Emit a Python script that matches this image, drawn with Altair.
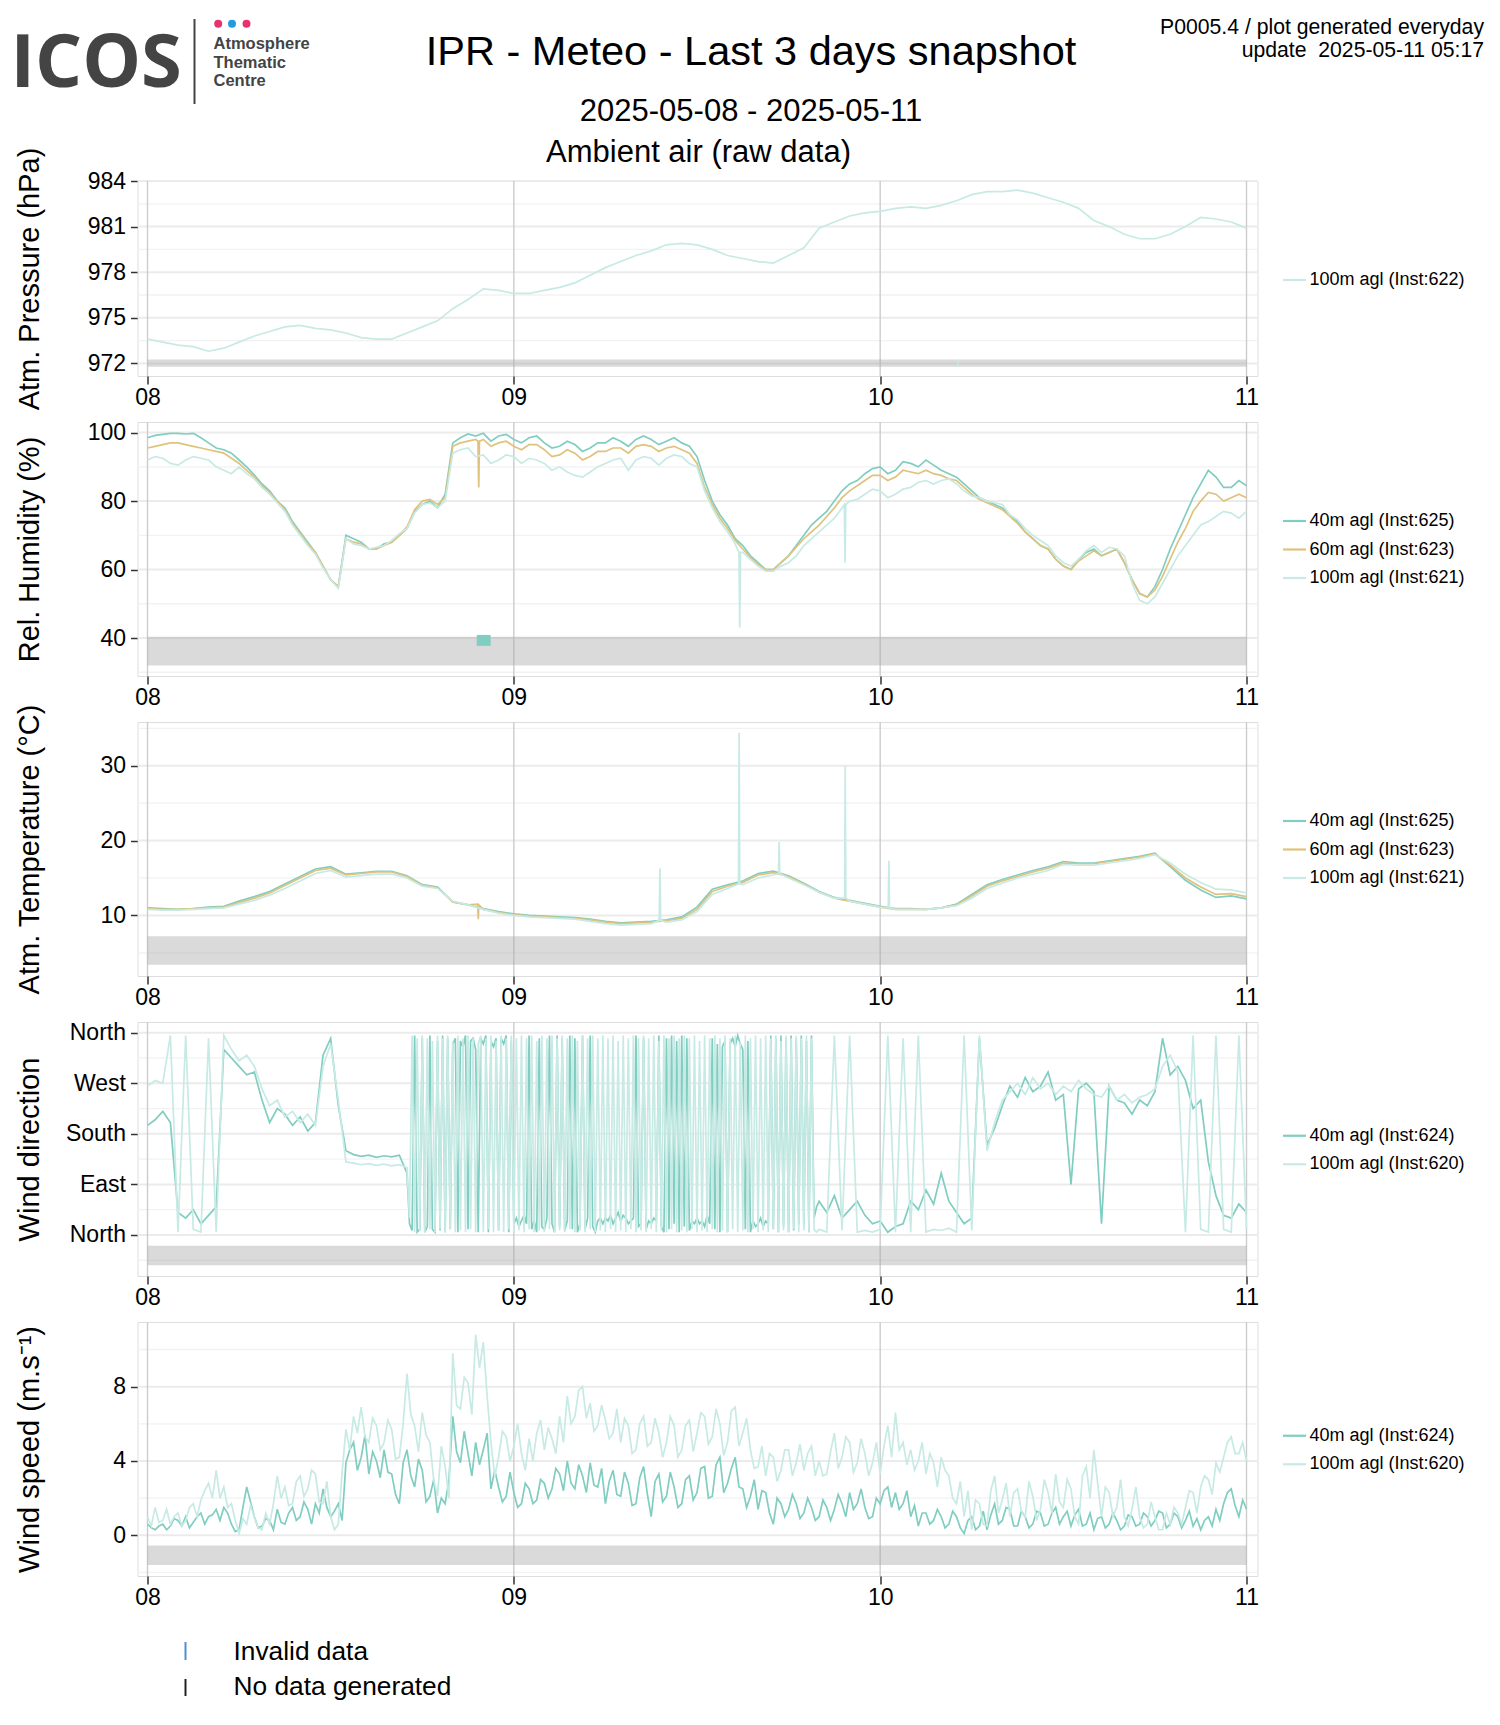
import altair as alt
import pandas as pd

FONT = "Liberation Sans"

# ---------------- time axis (hours since 2025-05-08 00:00) ----------------
DAY_TICKS = [0, 24, 48, 72]
DAY_LABELS = ["08", "09", "10", "11"]
X_DOMAIN = [-0.655, 72.72]
HOURS = list(range(73))
HALF_PAST = [h + 0.5 for h in range(72)]
HALF_HOURS = [i / 2 for i in range(145)]
QUARTER_HOURS = [i / 2 + 0.25 for i in range(144)]
DENSE_START, DENSE_END = 17, 44          # wind-direction stretch read at 10-min steps
DENSE_TIMES = [DENSE_START + k / 6 for k in range((DENSE_END - DENSE_START) * 6)]

# ---------------- Atm. pressure (hPa), hourly ----------------
p100 = [973.6, 973.4, 973.2, 973.1, 972.8, 973.0, 973.4, 973.8, 974.1, 974.4, 974.5, 974.3,
        974.2, 974.0, 973.7, 973.6, 973.6, 974.0, 974.4, 974.8, 975.6, 976.2, 976.9, 976.8,
        976.6, 976.6, 976.8, 977.0, 977.3, 977.8, 978.3, 978.7, 979.1, 979.4, 979.8, 979.9,
        979.8, 979.5, 979.1, 978.9, 978.7, 978.6, 979.1, 979.6, 980.9, 981.3, 981.7, 981.9,
        982.0, 982.2, 982.3, 982.2, 982.4, 982.7, 983.1, 983.3, 983.3, 983.4, 983.2, 982.9,
        982.6, 982.2, 981.4, 981.0, 980.5, 980.2, 980.2, 980.5, 981.0, 981.6, 981.5, 981.3, 980.9]

# ---------------- Relative humidity (%), on the hour + half past ----------------
rh40 = [98.5, 99.5, 99.8, 99.8, 97, 95, 92, 87.6, 83, 78, 71, 65,
        57, 70, 68, 66, 68, 72, 79, 78, 97, 99.6, 99.8, 99,
        98, 98.5, 97, 96, 96.5, 95.5, 97, 97.5, 98, 98, 97.5, 97,
        93, 80, 73, 67, 62, 60, 64, 70, 75, 80, 85, 88,
        90, 89, 91, 92, 89, 87, 83, 80, 78, 74, 69, 66,
        61, 63, 66, 65, 62, 53, 55, 66, 76, 85, 87, 84, 84.5]
rh40_h = [99.2, 99.8, 99.6, 98.5, 95.5, 94, 90, 85, 80, 74, 68, 61,
          55, 69, 66, 67.5, 70, 77, 80, 82, 98.5, 99, 97.5, 99.5,
          97, 99, 95.5, 97.5, 94.5, 97, 98.5, 96, 99, 96.5, 98.5, 96,
          86, 76, 69, 64, 60, 62, 67, 73, 77, 83, 86, 89.5,
          88, 91.5, 90, 90.5, 88, 85, 81, 79, 76, 71, 67, 63,
          60, 65, 64, 66, 57, 52, 60, 71, 81, 89, 84, 86]
rh60 = [95.5, 96.5, 97, 96, 95, 94, 91, 87, 82.5, 77.5, 70.5, 65,
        57, 69, 67.5, 66, 68, 72.5, 80, 79, 96, 97.5, 98, 97,
        96, 96.5, 95, 93.5, 94, 93, 94.5, 95.5, 96, 96, 95.5, 95,
        91, 79, 72, 66, 61.5, 60, 64, 69, 73, 78, 83, 86,
        87.5, 87, 88.5, 89, 87.5, 86, 82, 79.5, 77.5, 73.5, 69, 66,
        61, 62.5, 65.5, 65, 62, 53, 54, 63, 72, 80, 82, 81, 81]
rh60_h = [96, 97, 96.5, 95.5, 94.5, 92.5, 89, 84.5, 80, 73.5, 67.5, 61,
          55, 68, 66, 67, 70, 77.5, 80.5, 81, 97, 98, 96, 97.5,
          95, 96.5, 93, 95, 92, 94.5, 95.5, 94, 96.5, 94.5, 96, 94,
          84, 75, 68.5, 63.5, 60, 62, 66.5, 71, 75.5, 81, 84.5, 87.5,
          86, 89, 88, 88, 86.5, 84, 80.5, 78.5, 75.5, 71, 67, 63,
          60, 64, 64, 66, 57, 52, 58, 68, 77, 82.5, 80, 82]
rh100 = [92, 92.5, 90.5, 93, 92, 89, 90, 86.5, 82, 77, 70, 64.5,
         57, 69, 67, 66.5, 68.5, 72, 79, 78, 94, 95.5, 93.5, 92,
         93, 92.5, 91, 90, 87.5, 88.5, 91, 92.5, 92, 92.5, 92.5, 93,
         90, 78, 71, 65, 61, 59.5, 62, 67, 71, 75, 80, 82,
         83, 82, 84, 86, 86, 85, 81.5, 80, 79, 74.5, 70, 67,
         62, 63, 67, 66.5, 64, 51, 52, 60, 67, 73, 75.5, 76.5, 77]
rh100_h = [93, 91, 92, 92.5, 90, 88, 88, 84, 79.5, 73, 67, 60.5,
           54.5, 67.5, 66, 67, 70.5, 76.5, 79.5, 80, 95, 93, 91, 93.5,
           91, 92, 89, 88.5, 87, 90, 92, 89, 93, 90.5, 93.5, 91,
           83, 74, 67.5, 63, 59.5, 61, 64, 69, 73, 78, 80.5, 83.5,
           81, 83.5, 85.5, 85, 86.5, 83, 81, 79.5, 76, 72, 68.5, 64,
           61, 65.5, 65, 66, 56, 50, 56, 64, 70, 74, 77, 75]
rh60_spike_t = [21.65, 21.7, 21.75]
rh60_spike_v = [97.5, 84, 97.5]
rh100_spike_t = [38.75, 38.8, 38.85, 45.65, 45.7, 45.75]
rh100_spike_v = [65, 43, 65, 79, 62, 79]

# ---------------- Temperature (degC), hourly ----------------
t40 = [11.0, 10.9, 10.8, 10.9, 11.1, 11.2, 11.9, 12.5, 13.2, 14.2, 15.2, 16.2,
       16.5, 15.5, 15.7, 15.9, 15.9, 15.3, 14.1, 13.8, 11.8, 11.4, 10.9, 10.5,
       10.2, 10.0, 9.9, 9.8, 9.7, 9.5, 9.2, 9.0, 9.1, 9.2, 9.4, 9.8,
       11.1, 13.5, 14.1, 14.6, 15.6, 15.9, 15.3, 14.3, 13.2, 12.4, 12.0, 11.6,
       11.2, 10.9, 10.9, 10.8, 11.0, 11.5, 12.8, 14.1, 14.8, 15.4, 16.0, 16.5,
       17.2, 17.0, 17.0, 17.3, 17.6, 17.9, 18.3, 16.5, 14.7, 13.4, 12.4, 12.6, 12.2]
t60 = [10.9, 10.8, 10.8, 10.9, 11.0, 11.1, 11.7, 12.3, 13.0, 14.0, 15.0, 16.0,
       16.3, 15.4, 15.6, 15.8, 15.8, 15.2, 14.0, 13.7, 11.8, 11.4, 10.8, 10.4,
       10.1, 9.9, 9.8, 9.7, 9.6, 9.4, 9.1, 8.9, 9.0, 9.1, 9.3, 9.6,
       10.8, 13.2, 13.9, 14.4, 15.4, 15.7, 15.2, 14.2, 13.1, 12.3, 11.9, 11.5,
       11.1, 10.8, 10.8, 10.8, 11.0, 11.4, 12.6, 13.9, 14.6, 15.2, 15.8, 16.3,
       17.0, 16.9, 16.9, 17.2, 17.5, 17.8, 18.2, 16.7, 15.0, 13.8, 12.8, 12.9, 12.5]
t100 = [10.8, 10.7, 10.7, 10.8, 10.9, 11.0, 11.5, 12.0, 12.7, 13.6, 14.6, 15.6,
        16.0, 15.1, 15.3, 15.5, 15.5, 15.0, 13.9, 13.6, 11.9, 11.4, 10.8, 10.3,
        10.0, 9.8, 9.7, 9.6, 9.5, 9.2, 8.9, 8.7, 8.8, 8.9, 9.1, 9.4,
        10.5, 12.8, 13.6, 14.1, 15.0, 15.4, 15.0, 14.1, 13.1, 12.3, 11.9, 11.5,
        11.1, 10.8, 10.8, 10.8, 11.0, 11.3, 12.3, 13.6, 14.3, 15.0, 15.5, 16.0,
        16.8, 16.7, 16.7, 17.0, 17.3, 17.6, 18.1, 17.0, 15.5, 14.4, 13.5, 13.4, 13.0]
t60_spike_t = [21.63, 21.67, 21.71]
t60_spike_v = [11.5, 9.5, 11.4]
t100_spike_t = [33.52, 33.57, 33.62, 38.72, 38.76, 38.8, 41.34, 41.38, 41.42,
                45.67, 45.71, 45.75, 48.53, 48.57, 48.61]
t100_spike_v = [9.3, 16.3, 9.3, 14.2, 34.4, 14.2, 15.6, 19.8, 15.6,
                12.3, 30.0, 12.3, 11.0, 17.3, 11.0]

# ---------------- Wind direction (deg), half-hourly ----------------
wd40 = [195, 205, 220, 200, 40, 30, 45, 20, 35, 50,
        330, 315, 300, 285, 290, 240, 200, 225, 215, 195,
        210, 185, 200, 320, 350, 230, 150, 143, 140, 142,
        138, 141, 139, 142, 120, 10, 350, 5, 355, 8,
        340, 330, 350, 5, 345, 335, 10, 350, 20, 35,
        15, 355, 10, 25, 355, 15, 350, 5, 30, 355,
        30, 40, 25, 30, 355, 15, 350, 10, 340, 5,
        355, 10, 350, 15, 345, 340, 5, 335, 10, 345,
        5, 350, 8, 355, 12, 350, 5, 355, 60, 40,
        70, 30, 45, 60, 35, 20, 25, 5, 15, 20,
        60, 45, 80, 55, 110, 60, 40, 20, 30, 350,
        160, 190, 230, 265, 245, 280, 255, 265, 290, 240,
        250, 90, 260, 270, 255, 20, 265, 240, 235, 215,
        240, 230, 255, 350, 285, 300, 275, 225, 240, 130,
        70, 35, 30, 55, 40]
wd100 = [265, 275, 270, 355, 5, 355, 10, 5, 350, 5,
         355, 330, 310, 320, 300, 260, 230, 240, 210, 220,
         200, 215, 195, 300, 340, 240, 130, 128, 125, 127,
         124, 126, 123, 125, 110, 355, 5, 350, 10, 355,
         5, 350, 345, 355, 8, 355, 340, 5, 355, 10,
         350, 5, 355, 8, 350, 5, 355, 10, 350, 5,
         355, 10, 350, 5, 355, 8, 350, 5, 355, 10,
         350, 5, 355, 10, 350, 5, 355, 8, 350, 5,
         355, 10, 345, 5, 355, 10, 350, 5, 10, 5,
         355, 8, 355, 5, 8, 5, 10, 355, 5, 350,
         5, 355, 5, 10, 8, 12, 5, 355, 8, 355,
         150, 200, 240, 255, 270, 250, 280, 260, 270, 250,
         265, 255, 275, 260, 250, 245, 265, 240, 250, 235,
         245, 250, 260, 300, 320, 290, 5, 355, 10, 5,
         355, 10, 5, 355, 10]
# 10-minute readings of the flip-flopping stretch (17h on 08 to 20h on 09), one row per hour
wd40_dense = [110, 20, 8, 355, 5, 10,
              350, 5, 15, 355, 10, 5,
              345, 8, 355, 5, 350, 10,
              340, 350, 5, 345, 335, 355,
              10, 345, 350, 330, 5, 350,
              340, 355, 5, 345, 335, 350,
              8, 350, 340, 355, 5, 345,
              20, 30, 15, 25, 35, 20,
              355, 10, 25, 5, 350, 15,
              10, 30, 355, 20, 5, 355,
              15, 350, 8, 25, 355, 10,
              350, 5, 20, 355, 10, 30,
              355, 15, 5, 25, 30, 20,
              30, 25, 35, 20, 30, 40,
              25, 35, 30, 20, 25, 30,
              355, 15, 20, 350, 10, 25,
              20, 30, 25, 355, 15, 5,
              350, 10, 355, 20, 345, 5,
              355, 15, 350, 8, 25, 20,
              30, 20, 25, 15, 35, 20,
              350, 10, 340, 5, 335, 345,
              5, 340, 350, 335, 355, 340,
              330, 10, 345, 5, 25, 15,
              20, 30, 15, 25, 20, 355,
              10, 350, 5, 355, 15, 350,
              5, 355, 8, 350, 20, 355,
              15, 345, 5, 355, 30, 50]
wd100_dense = [120, 30, 355, 5, 350, 8,
               355, 5, 350, 10, 345, 5,
               355, 10, 350, 5, 355, 10,
               345, 5, 355, 8, 350, 5,
               355, 10, 350, 5, 340, 355,
               5, 350, 10, 355, 5, 345,
               8, 355, 5, 350, 10, 355,
               5, 350, 8, 355, 5, 350,
               10, 355, 5, 345, 8, 355,
               5, 350, 10, 355, 5, 350,
               8, 355, 5, 350, 10, 355,
               5, 345, 8, 355, 5, 350,
               10, 355, 5, 350, 8, 355,
               5, 350, 10, 355, 5, 345,
               8, 355, 5, 350, 10, 355,
               5, 350, 8, 355, 5, 350,
               10, 355, 5, 345, 8, 355,
               5, 350, 10, 355, 5, 350,
               8, 355, 5, 350, 10, 355,
               5, 345, 8, 355, 5, 350,
               10, 355, 5, 350, 8, 355,
               5, 350, 10, 355, 5, 345,
               8, 355, 5, 350, 10, 355,
               5, 350, 8, 355, 5, 350,
               10, 355, 5, 345, 8, 355,
               5, 350, 10, 355, 5, 350,
               8, 355, 5, 350, 10, 5]

# ---------------- Wind speed (m/s), half-hourly + quarter-past readings ----------------
ws40 = [0.6, 0.3, 0.6, 0.5, 0.8, 1.0, 0.7, 1.2, 1.0, 1.4,
        1.5, 0.6, 0.3, 2.6, 1.0, 0.5, 0.8, 1.4, 0.6, 1.5,
        1.0, 1.4, 1.7, 2.5, 1.0, 1.7, 3.9, 5.0, 4.2, 3.3,
        4.0, 4.6, 3.3, 1.7, 4.6, 2.6, 3.5, 2.1, 1.2, 1.7,
        6.4, 3.9, 4.4, 5.0, 4.6, 2.5, 2.6, 2.1, 2.3, 1.7,
        2.5, 1.9, 2.8, 2.5, 3.3, 4.0, 2.5, 3.2, 3.9, 2.6,
        1.7, 3.5, 2.1, 2.8, 1.7, 3.7, 1.0, 3.3, 2.1, 2.6,
        1.7, 3.2, 2.3, 3.7, 2.1, 4.2, 2.8, 4.2, 2.5, 2.1,
        1.4, 2.3, 0.6, 1.7, 1.4, 1.7, 1.2, 1.5, 1.0, 1.5,
        1.4, 1.7, 2.3, 1.7, 1.5, 1.0, 1.7, 2.6, 2.3, 1.7,
        1.0, 0.5, 1.2, 0.8, 1.0, 0.6, 1.0, 0.1, 1.0, 0.5,
        0.3, 1.7, 0.8, 1.4, 0.5, 1.0, 0.6, 1.2, 0.6, 1.5,
        1.0, 0.5, 1.4, 0.6, 0.3, 1.0, 0.6, 0.8, 0.5, 1.0,
        0.6, 1.0, 0.8, 1.2, 0.6, 1.0, 0.8, 0.5, 0.3, 1.0,
        1.4, 1.7, 2.5, 1.0, 1.4]
ws40_q = [0.4, 0.5, 0.3, 0.9, 0.5, 0.4, 1.0, 0.6, 1.1, 0.8,
          1.2, 0.2, 1.5, 1.8, 0.4, 0.9, 0.3, 0.7, 1.2, 0.8,
          1.8, 0.6, 1.2, 1.5, 1.3, 0.8, 4.6, 3.5, 5.4, 4.5,
          3.1, 3.4, 2.2, 3.9, 3.2, 4.1, 1.8, 3.0, 2.0, 3.0,
          4.5, 5.6, 3.2, 3.8, 5.5, 3.5, 1.8, 3.4, 1.5, 2.8,
          1.7, 3.0, 2.0, 3.6, 2.4, 2.8, 3.8, 2.3, 2.7, 3.6,
          2.9, 2.2, 3.4, 1.6, 3.1, 2.2, 2.9, 1.8, 3.4, 1.5,
          3.0, 1.9, 3.6, 2.0, 3.8, 2.3, 3.6, 2.6, 1.5, 3.0,
          2.4, 1.2, 2.0, 1.0, 2.2, 0.9, 2.0, 0.8, 1.9, 0.8,
          2.2, 1.0, 1.4, 2.5, 0.9, 2.0, 2.4, 1.5, 1.4, 2.4,
          1.6, 1.2, 0.6, 1.4, 0.4, 1.3, 0.4, 0.8, 0.3, 1.3,
          1.1, 0.6, 1.5, 0.5, 1.3, 0.4, 1.3, 0.5, 1.2, 0.6,
          1.3, 1.1, 0.5, 1.2, 0.9, 0.4, 1.2, 0.3, 1.1, 0.5,
          1.2, 0.5, 1.3, 0.4, 1.2, 0.4, 1.3, 0.9, 0.8, 0.5,
          0.8, 2.3, 1.6, 1.9]
ws100 = [1.0, 1.5, 0.8, 0.6, 1.2, 0.8, 1.7, 1.9, 2.8, 3.5,
         2.6, 1.7, 0.1, 0.6, 1.0, 0.3, 0.6, 3.2, 2.6, 1.7,
         3.2, 2.5, 3.3, 1.7, 1.0, 0.6, 5.7, 6.4, 6.9, 5.0,
         5.9, 5.0, 5.7, 4.2, 8.7, 5.9, 6.6, 5.0, 2.1, 3.7,
         9.8, 6.8, 8.2, 10.8, 10.4, 5.0, 4.2, 5.3, 4.8, 4.4,
         5.2, 5.5, 4.6, 5.2, 6.4, 7.5, 6.4, 8.0, 7.1, 5.9,
         6.2, 5.5, 5.0, 5.9, 4.6, 6.4, 5.0, 5.5, 5.0, 5.9,
         4.6, 6.2, 5.5, 6.4, 5.3, 6.0, 5.0, 6.9, 5.5, 4.6,
         3.7, 3.2, 4.2, 3.5, 4.6, 3.9, 3.5, 4.8, 4.0, 3.3,
         5.5, 4.2, 5.0, 3.9, 4.4, 3.9, 3.3, 5.9, 6.6, 5.0,
         4.6, 4.0, 3.3, 3.9, 4.2, 3.2, 1.7, 1.0, 0.3, 1.7,
         0.5, 3.2, 1.9, 1.0, 2.5, 1.0, 2.1, 1.4, 2.3, 3.3,
         1.5, 2.5, 0.6, 3.7, 4.6, 1.0, 2.3, 1.5, 1.0, 1.4,
         1.0, 0.6, 1.0, 0.3, 0.6, 1.2, 1.5, 2.3, 2.6, 3.0,
         3.9, 4.2, 5.3, 4.4, 4.0]
ws100_q = [0.5, 0.7, 1.4, 1.0, 0.5, 1.5, 1.0, 2.4, 2.0, 2.0,
           1.5, 0.8, 0.9, 1.6, 0.4, 1.2, 1.7, 2.0, 1.6, 2.9,
           2.1, 3.5, 1.8, 2.9, 0.3, 3.4, 4.6, 5.5, 5.3, 6.3,
           4.6, 6.2, 4.1, 6.0, 6.5, 4.5, 5.4, 3.0, 4.8, 2.0,
           7.0, 8.5, 6.5, 9.0, 7.5, 3.2, 5.6, 4.0, 6.0, 3.5,
           4.0, 6.2, 5.8, 4.4, 5.0, 6.0, 7.8, 6.3, 5.6, 7.0,
           5.2, 6.8, 6.3, 4.4, 6.0, 4.8, 6.3, 4.2, 6.4, 4.2,
           5.9, 4.5, 6.6, 4.9, 6.8, 4.3, 6.7, 4.8, 6.3, 3.6,
           4.8, 4.4, 2.9, 4.6, 3.2, 4.9, 4.4, 3.2, 3.2, 4.5,
           3.6, 5.3, 3.4, 5.2, 3.2, 5.0, 4.8, 4.2, 4.6, 3.8,
           3.5, 5.0, 4.4, 2.6, 3.5, 2.0, 2.9, 2.4, 1.9, 0.6,
           2.4, 1.2, 2.8, 2.3, 1.3, 2.9, 0.8, 3.0, 1.2, 1.8,
           3.0, 1.0, 3.2, 2.0, 2.8, 2.6, 1.0, 3.0, 0.5, 2.6,
           0.4, 1.8, 0.3, 1.2, 1.5, 0.6, 2.4, 1.2, 3.2, 2.2,
           3.4, 5.0, 4.4, 5.0]

# ---------------- series names and colours ----------------
C40, C60, C100 = "#80cdc1", "#dfc27d", "#c7eae5"
P_NAMES = ["100m agl (Inst:622)"]
RH_NAMES = ["40m agl (Inst:625)", "60m agl (Inst:623)", "100m agl (Inst:621)"]
T_NAMES = ["40m agl (Inst:625)", "60m agl (Inst:623)", "100m agl (Inst:621)"]
W_NAMES = ["40m agl (Inst:624)", "100m agl (Inst:620)"]

# flag markers (start h, end h, low, high)
rh_flag = {"t0": [21.57], "t1": [22.48], "lo": [37.7], "hi": [40.9]}
p_flag = {"t0": [53.05], "t1": [53.15], "lo": [971.85], "hi": [972.25]}

# ---------------- panel axes ----------------
P_DOM, P_TICKS, P_MINOR, P_BAND = [971.17, 984.0], [972, 975, 978, 981, 984], [973.5, 976.5, 979.5, 982.5], [971.78, 972.26]
RH_DOM, RH_TICKS, RH_MINOR, RH_BAND = [28.9, 103.1], [40, 60, 80, 100], [30, 50, 70, 90], [32.0, 40.4]
T_DOM, T_TICKS, T_MINOR, T_BAND = [1.9, 35.84], [10, 20, 30], [5, 15, 25, 35], [3.4, 7.2]
WD_DOM, WD_TICKS, WD_MINOR, WD_BAND = [-73, 379], [0, 90, 180, 270, 360], [-45, 45, 135, 225, 315], [-54, -19]
WD_LABELS = ["North", "East", "South", "West", "North"]
WS_DOM, WS_TICKS, WS_MINOR, WS_BAND = [-2.19, 11.48], [0, 4, 8], [-2, 2, 6, 10], [-1.6, -0.55]

W = 1120


def frame(items):
    rows = []
    for name, times, values in items:
        for t, v in sorted(zip(times, values)):
            rows.append({"series": name, "t": t, "v": v})
    return pd.DataFrame(rows)


def with_dense(times, values, dtimes, dvalues):
    keep = [(t, v) for t, v in zip(times, values) if not (DENSE_START <= t < DENSE_END)]
    return [t for t, _ in keep] + list(dtimes), [v for _, v in keep] + list(dvalues)


XLABEL_EXPR = "[" + ",".join("'" + s + "'" for s in DAY_LABELS) + "][round(datum.value/24)]"
XSCALE = alt.Scale(domain=X_DOMAIN, nice=False, zero=False)
XAXIS = alt.Axis(values=DAY_TICKS, labelExpr=XLABEL_EXPR, title=None, grid=False, domain=False,
                 tickSize=8, tickWidth=1.5, tickColor="#333333", labelFontSize=23, labelFont=FONT,
                 labelColor="black", labelPadding=2)


def xe(field):
    return alt.X(field + ":Q", scale=XSCALE, axis=XAXIS)


def panel(df, names, colors, ydom, yticks, yminor, band, title, height, ylabels=None,
          flag=None, flag_color=C40, extra=()):
    ak = dict(values=yticks, title=title, grid=False, domain=False, tickSize=7, tickWidth=1.5,
              tickColor="#333333", labelFontSize=23, labelFont=FONT, labelColor="black", labelPadding=5,
              titleFont=FONT, titleFontSize=29, titleFontWeight="normal", titleColor="black",
              titleAngle=270, titleX=-108, titleY=height / 2, titleAlign="center", titleBaseline="middle")
    if ylabels:
        ak["labelExpr"] = "[" + ",".join("'" + s + "'" for s in ylabels) + "][round(datum.value/90)]"
    else:
        ak["format"] = "d"
    ysc = alt.Scale(domain=ydom, nice=False, zero=False)
    yax = alt.Axis(**ak)

    def ye(field):
        return alt.Y(field + ":Q", scale=ysc, axis=yax)

    minor = alt.Chart(pd.DataFrame({"v": yminor})).mark_rule(color="#f2f2f2", strokeWidth=1.3).encode(y=ye("v"))
    major = alt.Chart(pd.DataFrame({"v": yticks})).mark_rule(color="#ebebeb", strokeWidth=2).encode(y=ye("v"))
    days = alt.Chart(pd.DataFrame({"t": DAY_TICKS})).mark_rule(color="#cccccc", strokeWidth=1.4).encode(x=xe("t"))
    bandc = alt.Chart(pd.DataFrame({"t0": [DAY_TICKS[0]], "t1": [DAY_TICKS[-1]], "lo": [band[0]], "hi": [band[1]]})) \
        .mark_rect(color="#a6a6a6", opacity=0.42).encode(x=xe("t0"), x2="t1", y=ye("lo"), y2="hi")
    n = len(names)
    ly = height / 2 - (n * 23 + (n - 1) * 6.5) / 2
    lines = alt.Chart(df).mark_line(strokeWidth=1.7).encode(
        x=xe("t"), y=ye("v"),
        color=alt.Color("series:N", scale=alt.Scale(domain=names, range=colors),
                        legend=alt.Legend(title=None, orient="none", legendX=1144, legendY=ly,
                                          symbolType="stroke", symbolSize=529, symbolStrokeWidth=2.2,
                                          labelFontSize=18, labelFont=FONT, labelColor="black",
                                          rowPadding=6.5, labelOffset=2, padding=0)))
    layers = [minor, major, days, bandc, lines]
    if flag:
        layers.append(alt.Chart(pd.DataFrame(flag)).mark_rect(color=flag_color)
                      .encode(x=xe("t0"), x2="t1", y=ye("lo"), y2="hi"))
    layers += list(extra)
    return alt.layer(*layers).properties(width=W, height=height)


def txt(x, y, s, size, align="center", color="black", font=FONT, weight="normal"):
    return alt.Chart(alt.Data(values=[{}])).mark_text(
        text=s, fontSize=size, align=align, baseline="alphabetic", color=color, font=font, fontWeight=weight
    ).encode(x=alt.value(x), y=alt.value(y))


def dot(x, y, color):
    return alt.Chart(alt.Data(values=[{}])).mark_point(filled=True, size=64, color=color, opacity=1).encode(
        x=alt.value(x), y=alt.value(y))


def vline(x, y1, y2, color, width):
    return alt.Chart(alt.Data(values=[{}])).mark_rule(color=color, strokeWidth=width).encode(
        x=alt.value(x), y=alt.value(y1), y2=alt.value(y2))


header = [
    txt(-127, -94, "ICOS", 74, align="left", color="#444444", font="Open Sans", weight="bold"),
    vline(57, -162, -77, "#444444", 2),
    dot(80.7, -157.3, "#e6336f"), dot(94.5, -157.3, "#219be1"), dot(109, -157.3, "#e6336f"),
    txt(76, -132, "Atmosphere", 16.5, align="left", color="#444444", weight="bold"),
    txt(76, -113.5, "Thematic", 16.5, align="left", color="#444444", weight="bold"),
    txt(76, -95, "Centre", 16.5, align="left", color="#444444", weight="bold"),
    txt(613.5, -116, "IPR - Meteo - Last 3 days snapshot", 41.5),
    txt(613.5, -60, "2025-05-08 - 2025-05-11", 31),
    txt(561, -19, "Ambient air (raw data)", 31),
    txt(1346.5, -147, "P0005.4 / plot generated everyday", 21.2, align="right"),
    txt(1346.5, -124, "update \u00a02025-05-11 05:17", 21.2, align="right"),
]

footer = [
    vline(48, 320, 338, "#4d8fd1", 2),
    txt(96, 338, "Invalid data", 26.3, align="left"),
    vline(48, 357, 374, "#222222", 2),
    txt(96, 373, "No data generated", 26.3, align="left"),
]

p_df = frame([(P_NAMES[0], HOURS, p100)])
rh_df = frame([(RH_NAMES[0], HOURS + HALF_PAST, rh40 + rh40_h),
               (RH_NAMES[1], HOURS + HALF_PAST + rh60_spike_t, rh60 + rh60_h + rh60_spike_v),
               (RH_NAMES[2], HOURS + HALF_PAST + rh100_spike_t, rh100 + rh100_h + rh100_spike_v)])
t_df = frame([(T_NAMES[0], HOURS, t40),
              (T_NAMES[1], HOURS + t60_spike_t, t60 + t60_spike_v),
              (T_NAMES[2], HOURS + t100_spike_t, t100 + t100_spike_v)])
wd40_t, wd40_v = with_dense(HALF_HOURS, wd40, DENSE_TIMES, wd40_dense)
wd100_t, wd100_v = with_dense(HALF_HOURS, wd100, DENSE_TIMES, wd100_dense)
wd_df = frame([(W_NAMES[0], wd40_t, wd40_v), (W_NAMES[1], wd100_t, wd100_v)])
ws_df = frame([(W_NAMES[0], HALF_HOURS + QUARTER_HOURS, ws40 + ws40_q),
               (W_NAMES[1], HALF_HOURS + QUARTER_HOURS, ws100 + ws100_q)])

p1 = panel(p_df, P_NAMES, [C100], P_DOM, P_TICKS, P_MINOR, P_BAND, "Atm. Pressure (hPa)", 195,
           flag=p_flag, flag_color=C100, extra=header)
p2 = panel(rh_df, RH_NAMES, [C40, C60, C100], RH_DOM, RH_TICKS, RH_MINOR, RH_BAND, "Rel. Humidity (%)", 254,
           flag=rh_flag)
p3 = panel(t_df, T_NAMES, [C40, C60, C100], T_DOM, T_TICKS, T_MINOR, T_BAND, "Atm. Temperature (°C)", 254)
p4 = panel(wd_df, W_NAMES, [C40, C100], WD_DOM, WD_TICKS, WD_MINOR, WD_BAND, "Wind direction", 254,
           ylabels=WD_LABELS)
p5 = panel(ws_df, W_NAMES, [C40, C100], WS_DOM, WS_TICKS, WS_MINOR, WS_BAND, "Wind speed (m.s⁻¹)", 254,
           extra=footer)

chart = alt.vconcat(p1, p2, p3, p4, p5, spacing=46, bounds="flush").resolve_scale(
    x="independent", y="independent", color="independent").resolve_legend(color="independent").properties(
    padding={"left": 1.5, "top": 8, "right": 4, "bottom": 6}).configure_view(
    stroke="#333333", strokeWidth=1.5).configure(background="white")

chart.save("out.html", embed_options={"renderer": "svg", "actions": False})
